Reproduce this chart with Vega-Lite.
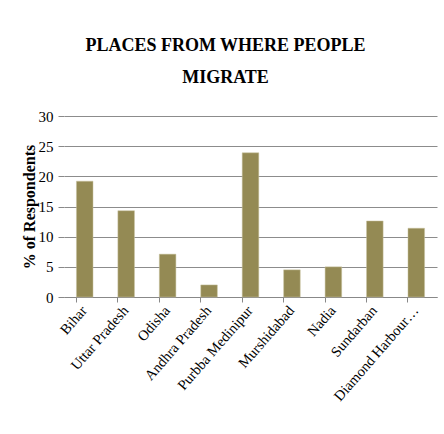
{
  "$schema": "https://vega.github.io/schema/vega-lite/v6.json",
  "autosize": "none",
  "padding": {"left": 64, "top": 116, "right": 7, "bottom": 137},
  "width": 373,
  "height": 181,
  "background": "white",
  "title": {
    "text": ["PLACES FROM WHERE PEOPLE", "MIGRATE"],
    "font": "Liberation Serif",
    "fontSize": 18,
    "fontWeight": "bold",
    "color": "#000000",
    "anchor": "middle",
    "dx": -25,
    "lineHeight": 32,
    "offset": 22
  },
  "data": {
    "values": [
      {"place": "Bihar", "pct": 19.2},
      {"place": "Uttar Pradesh", "pct": 14.3},
      {"place": "Odisha", "pct": 7.1},
      {"place": "Andhra Pradesh", "pct": 2.0},
      {"place": "Purbba Medinipur", "pct": 23.9},
      {"place": "Murshidabad", "pct": 4.5},
      {"place": "Nadia", "pct": 5.0},
      {"place": "Sundarban", "pct": 12.6},
      {"place": "Diamond Harbour…", "pct": 11.4}
    ]
  },
  "mark": {"type": "bar", "color": "#948A54", "stroke": "#C9C2A0", "strokeWidth": 0.5},
  "encoding": {
    "x": {
      "field": "place",
      "type": "nominal",
      "sort": null,
      "scale": {"paddingInner": 0.6, "paddingOuter": 0.3},
      "axis": {
        "title": null,
        "labelAngle": -49,
        "labelFont": "Liberation Serif",
        "labelFontSize": 14.5,
        "labelColor": "#000000",
        "labelPadding": 6,
        "bandPosition": 0,
        "tickColor": "#888888",
        "tickSize": 5,
        "domainColor": "#888888",
        "grid": false
      }
    },
    "y": {
      "field": "pct",
      "type": "quantitative",
      "scale": {"domain": [0, 30]},
      "axis": {
        "title": "% of Respondents",
        "titleFont": "Liberation Serif",
        "titleFontSize": 16,
        "titleFontWeight": "bold",
        "titleColor": "#000000",
        "titlePadding": 1,
        "values": [0, 5, 10, 15, 20, 25, 30],
        "labelFont": "Liberation Serif",
        "labelFontSize": 15,
        "labelColor": "#000000",
        "labelPadding": 5,
        "tickColor": "#888888",
        "tickSize": 6,
        "domain": false,
        "gridColor": "#8C8C8C",
        "gridWidth": 1
      }
    }
  },
  "config": {"view": {"stroke": null}}
}
